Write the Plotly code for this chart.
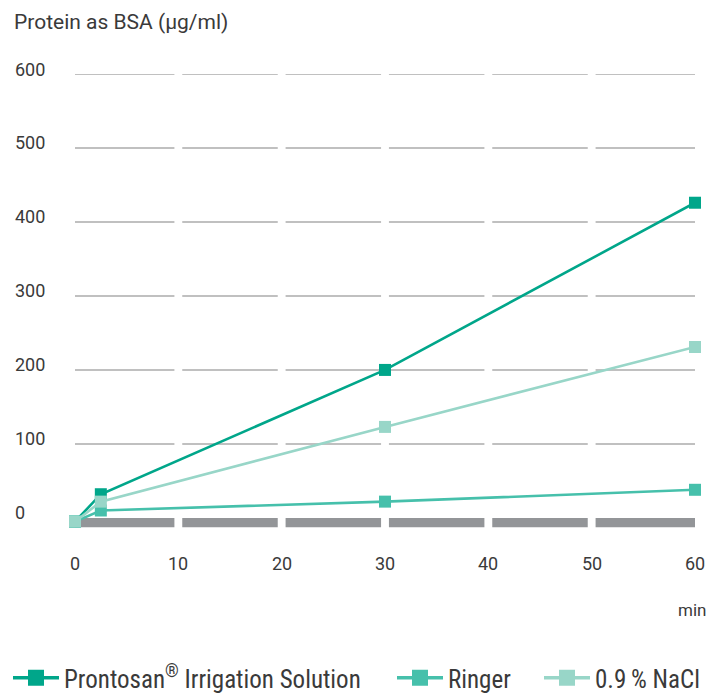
import plotly.graph_objects as go

# ---- data ----
time_min = [0, 2.5, 30, 60]
prontosan = [-5, 32, 200, 426]
ringer = [-5, 10, 22, 38]
nacl = [-5, 22, 123, 231]
series_names = ["Prontosan<sup>®</sup> Irrigation Solution", "Ringer", "0.9\u2009% NaCl"]
series_colors = ["#00A68A", "#46C0AB", "#98D6C8"]
x_ticks = [0, 10, 20, 30, 40, 50, 60]
y_ticks = [0, 100, 200, 300, 400, 500, 600]
y_title = "Protein as BSA (µg/ml)"
x_title = "min"

FONT = "Roboto, 'Open Sans', sans-serif"
LFONT = "'Roboto Condensed', Roboto, sans-serif"
TXT = "#3a3a3a"

W, H = 716, 687          # page body has an 8px offset inside the 724x695 window
L, R, T, B = 67, 29, 66, 166
PW = W - L - R

legend_ids = ["legend", "legend2", "legend3"]
legend_x = [-2, 384, 531]

fig = go.Figure()
for name, vals, col in zip(series_names, [prontosan, ringer, nacl], series_colors):
    fig.add_trace(go.Scatter(
        x=time_min, y=vals, name=name, mode="lines+markers",
        line=dict(color=col, width=2.6),
        marker=dict(symbol="square", size=12, color=col),
        cliponaxis=False, showlegend=False,
    ))
# legend entries (larger symbols, no data)
for name, col, lid in zip(series_names, series_colors, legend_ids):
    fig.add_trace(go.Scatter(
        x=[None], y=[None], name=name, mode="lines+markers",
        line=dict(color=col, width=3.5),
        marker=dict(symbol="square", size=20, color=col),
        legend=lid, showlegend=True, hoverinfo="skip",
    ))

# segmented gridlines and base bar
gap = 0.38
shapes = []
for i in range(len(x_ticks) - 1):
    x0 = x_ticks[i] + (gap if i > 0 else 0)
    x1 = x_ticks[i + 1] - (gap if i < len(x_ticks) - 2 else 0)
    for yv in y_ticks[1:]:
        shapes.append(dict(type="line", xref="x", yref="y", x0=x0, x1=x1, y0=yv, y1=yv,
                           line=dict(color="#ABABAB", width=1.5), layer="below"))
    shapes.append(dict(type="rect", xref="x", yref="y", x0=x0, x1=x1, y0=0, y1=-12.5,
                       fillcolor="#939598", line=dict(width=0), layer="below"))

annotations = []
for yv in y_ticks:
    annotations.append(dict(text=str(yv), xref="paper", yref="y", x=(5 - L) / PW, y=yv,
                            xanchor="left", yanchor="middle", yshift=5, showarrow=False,
                            font=dict(family=FONT, size=18, color=TXT)))
for xv in x_ticks:
    annotations.append(dict(text=str(xv), xref="x", yref="paper", x=xv, y=0,
                            xanchor="center", yanchor="middle", yshift=-34, showarrow=False,
                            font=dict(family=FONT, size=18, color=TXT)))
annotations.append(dict(text=y_title, xref="paper", yref="paper", x=(4 - L) / PW, y=1,
                        xanchor="left", yanchor="middle", yshift=52, showarrow=False,
                        font=dict(family=FONT, size=21, color=TXT)))
annotations.append(dict(text=x_title, xref="paper", yref="paper", x=1, y=0,
                        xanchor="right", yanchor="middle", yshift=-81, xshift=13, showarrow=False,
                        font=dict(family=FONT, size=17, color=TXT)))

legend_common = dict(orientation="h", xref="container", yref="container", xanchor="left",
                     y=17 / H, yanchor="middle", itemwidth=46, bgcolor="rgba(0,0,0,0)",
                     font=dict(family=LFONT, size=25, color=TXT))
legends = {lid: dict(legend_common, x=lx / W) for lid, lx in zip(legend_ids, legend_x)}

fig.update_layout(
    width=W, height=H,
    margin=dict(l=L, r=R, t=T, b=B, autoexpand=False),
    paper_bgcolor="white", plot_bgcolor="white",
    showlegend=True,
    xaxis=dict(range=[0, 60], showgrid=False, zeroline=False, showline=False,
               showticklabels=False, ticks=""),
    yaxis=dict(range=[-15, 600], showgrid=False, zeroline=False, showline=False,
               showticklabels=False, ticks=""),
    shapes=shapes, annotations=annotations,
    **legends,
)
fig.write_html("out.html")
